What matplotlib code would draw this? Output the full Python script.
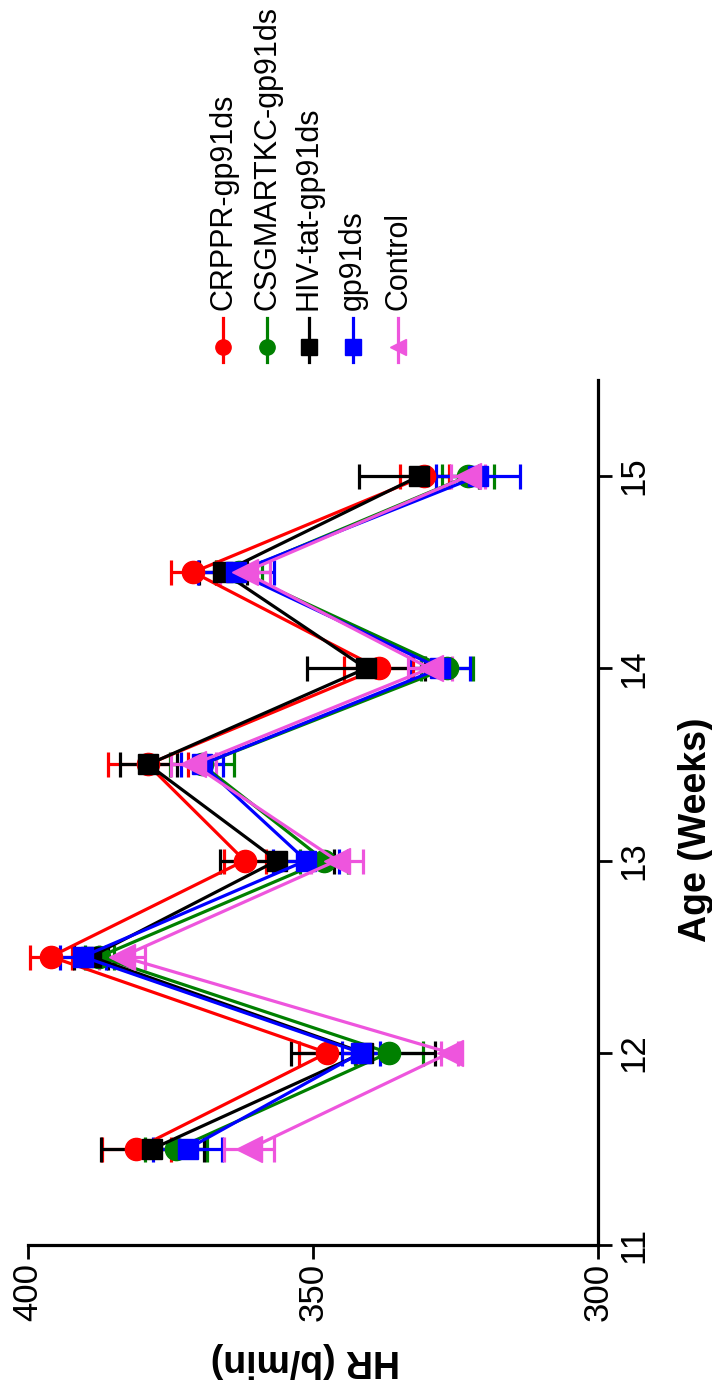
import matplotlib
matplotlib.use("Agg")
import matplotlib.pyplot as plt
from matplotlib.lines import Line2D

plt.rcParams['font.family'] = ['Liberation Sans', 'DejaVu Sans']

# ---- data ----
ages = [11.5, 12, 12.5, 13, 13.5, 14, 14.5, 15]
series_names = ["CRPPR-gp91ds", "CSGMARTKC-gp91ds", "HIV-tat-gp91ds", "gp91ds", "Control"]
hr_crppr = [381, 347.5, 396, 362, 379, 338.5, 371, 330.5]
err_crppr = [6, 5, 3.7, 3.7, 7, 6, 4, 4.3]
hr_csg = [374, 336.7, 387.5, 348, 369.5, 326.5, 363, 322.8]
err_csg = [5.4, 6, 2.5, 4.2, 5.6, 4.5, 4, 4.6]
hr_hiv = [378.2, 341.2, 389, 356.3, 378.9, 340.7, 365.8, 331.4]
err_hiv = [9, 12.6, 3, 10, 5, 10.4, 4.2, 10.6]
hr_gp = [372, 341.6, 390.4, 351.2, 369.5, 327.7, 363.5, 321]
err_gp = [6, 3.3, 4, 5.8, 3.7, 5.2, 6.6, 7.4]
hr_ctrl = [361.2, 326, 383.5, 345.8, 371, 329.5, 362, 322.8]
err_ctrl = [4.4, 1.5, 4.0, 4.5, 4, 3.8, 4.4, 3]

hr_ticks = [400, 350, 300]
age_ticks = [11, 12, 13, 14, 15]

values = [hr_crppr, hr_csg, hr_hiv, hr_gp, hr_ctrl]
errors = [err_crppr, err_csg, err_hiv, err_gp, err_ctrl]
colors = ["#FF0000", "#008000", "#000000", "#0000FF", "#EE55DD"]
markers = ["o", "o", "s", "s", "<"]
msizes = [16, 16, 15, 15, 19]

W, H = 712, 1382
fig = plt.figure(figsize=(W / 100, H / 100), dpi=100)
ax = fig.add_axes([28 / W, (H - 1245) / H, 570 / W, 865 / H])

for v, e, c, m, ms in zip(values, errors, colors, markers, msizes):
    ax.errorbar(v, ages, xerr=e, color=c, marker=m, ms=ms, mec=c, mfc=c,
                lw=2.3, elinewidth=2.3, capsize=9, capthick=2.3, clip_on=False)

ax.set_xlim(400, 300)
ax.set_ylim(11, 15.5)
ax.set_xticks(hr_ticks)
ax.set_yticks(age_ticks)
ax.spines['top'].set_visible(False)
ax.spines['left'].set_visible(False)
ax.spines['bottom'].set_linewidth(2.3)
ax.spines['right'].set_linewidth(2.3)
ax.yaxis.tick_right()
ax.tick_params(axis='both', direction='out', length=10, width=2.0, labelsize=25)
ax.tick_params(axis='x', labelrotation=90, pad=3)
ax.tick_params(axis='y', labelrotation=90, pad=4)
for lab in ax.get_yticklabels():
    lab.set_va('center')
    lab.set_ha('left')

ax.text(1.172, 0.48, "Age (Weeks)", transform=ax.transAxes, rotation=90,
        ha='center', va='center', fontsize=27, fontweight='bold')
ax.text(0.486, -0.133, "HR (b/min)", transform=ax.transAxes, rotation=180,
        ha='center', va='center', fontsize=27, fontweight='bold')

# ---- rotated legend ----
leg_x = [223, 267, 309, 353, 398]
for name, c, m, x in zip(series_names, colors, markers, leg_x):
    fx = x / W
    fig.add_artist(Line2D([fx, fx], [1 - 318 / H, 1 - 362 / H], color=c, lw=2.3,
                          transform=fig.transFigure))
    fig.add_artist(Line2D([fx], [1 - 347 / H], color=c, marker=m, ms=11, mec=c, mfc=c,
                          transform=fig.transFigure))
    fig.text(fx, 1 - 310 / H, name, rotation=90, ha='center', va='bottom', fontsize=22)

fig.savefig("out.png", dpi=100)
